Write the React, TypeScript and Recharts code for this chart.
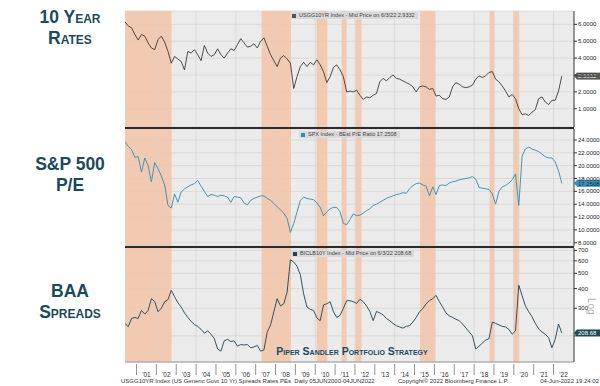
import { CartesianGrid, Line, LineChart, ReferenceArea, ReferenceLine, XAxis, YAxis } from "recharts";

// bi-monthly readings, Jun 2000 .. Jun 2022
const rateValues = [
  6.15, 5.9, 5.8, 5.4, 5.07, 5.4, 5.3, 4.9, 4.6, 4.5,
  5.1, 5.3, 4.95, 4.4, 3.7, 4.1, 3.95, 3.8, 3.3, 4.4,
  4.3, 4.5, 4.2, 3.85, 4.75, 4.3, 4.1, 4.2, 4.55, 4.2,
  4.0, 4.3, 4.55, 4.45, 4.8, 5.15, 4.9, 4.65, 4.7, 4.85,
  4.6, 5.0, 5.2, 4.7, 4.2, 3.85, 3.5, 4.0, 4.15, 3.95,
  3.7, 2.2, 2.9, 3.5, 3.75, 3.5, 3.75, 3.6, 3.9, 3.6,
  3.2, 2.55, 2.9, 3.45, 3.6, 3.3, 2.9, 2.0, 2.05, 2.0,
  2.1, 1.8, 1.55, 1.7, 1.65, 1.8, 1.9, 2.6, 2.8, 2.65,
  2.85, 3.0, 2.8, 2.75, 2.65, 2.55, 2.45, 2.3, 2.0, 2.3,
  2.35, 2.3, 2.15, 2.2, 1.75, 1.8, 1.6, 1.55, 1.7, 2.3,
  2.55, 2.45, 2.3, 2.25, 2.3, 2.4, 2.75, 2.95, 2.85, 2.95,
  3.15, 3.2, 2.75, 2.6, 2.35, 2.05, 1.7, 1.85, 1.6, 1.0,
  0.65, 0.7, 0.6, 0.8, 0.95, 1.6, 1.7, 1.4, 1.25, 1.5,
  1.5, 2.05, 2.9332,
];

const peValues = [
  23.7, 23.0, 22.5, 21.3, 21.4, 19.0, 21.2, 20.0, 17.5, 20.5,
  19.5, 18.4, 17.0, 13.8, 13.4, 15.6, 14.3, 15.9, 16.4, 16.7,
  17.0, 17.2, 17.7, 16.8, 16.0, 15.2, 15.5, 15.4, 15.2, 15.4,
  15.3, 15.1, 14.3, 15.2, 15.1, 15.0, 14.2, 13.9, 14.6, 14.9,
  15.1, 15.3, 15.3, 14.9, 14.6, 14.1, 13.6, 13.1, 12.6, 11.8,
  9.6, 11.0, 12.8, 14.6, 15.1, 14.9, 14.8, 14.7, 14.2, 13.5,
  12.2, 12.8, 13.3, 13.5, 13.5, 12.8, 11.0, 10.8, 11.6, 12.5,
  12.2, 12.3, 12.6, 13.0, 13.3, 13.8, 14.0, 14.3, 14.6, 14.9,
  15.1, 15.3, 15.5, 15.6, 15.8, 15.7, 16.4, 16.9, 17.2, 17.3,
  17.0, 16.8, 15.3, 16.7, 15.5, 16.9, 17.0, 16.9, 17.3, 17.5,
  17.6, 17.8, 17.9, 18.0, 18.1, 18.3, 17.9, 16.6, 16.5, 16.4,
  16.3, 15.6, 14.0, 16.0, 16.7, 16.9, 17.3, 17.8, 18.7, 13.8,
  21.5, 22.6, 22.9, 22.6, 22.4, 22.2, 21.8, 21.4, 21.2, 21.2,
  20.6, 19.2, 17.2508,
];

const baaValues = [
  240, 229, 258, 262, 258, 290, 275, 290, 345, 330,
  285, 300, 330, 340, 390, 355, 325, 305, 280, 262,
  247, 236, 230, 220, 208, 215, 205, 192, 165, 160,
  186, 190, 184, 186, 172, 176, 175, 176, 168, 170,
  174, 160, 163, 212, 235, 285, 345, 310, 320, 380,
  610, 590, 555, 490, 370, 305, 295, 290, 260, 250,
  315, 320, 330, 285, 262, 270, 300, 335, 335, 330,
  322, 342, 330, 310, 286, 250, 286, 280, 272, 258,
  250, 240, 232, 228, 224, 230, 232, 245, 262, 285,
  298, 320, 335, 345, 362, 330, 305, 280, 268, 262,
  255, 250, 238, 225, 212, 200, 165, 172, 180, 188,
  192, 245, 240, 235, 230, 228, 220, 205, 215, 420,
  360, 310, 285, 265, 240, 222, 212, 205, 195, 168,
  190, 238, 208.68,
];

// decimal years, one reading every two months from June 2000
const firstDate = 2000 + 5 / 12;
const dates = rateValues.map((_, i) => firstDate + i / 6);

const shadedPeriods = [
  [2000.42, 2002.77],
  [2007.3, 2008.78],
  [2010.07, 2010.61],
  [2011.33, 2011.58],
  [2012.03, 2012.33],
  [2015.28, 2016.06],
  [2018.78, 2019.03],
  [2019.97, 2020.27],
];

const yearTicks = [
  2001, 2002, 2003, 2004, 2005, 2006, 2007, 2008, 2009, 2010, 2011,
  2012, 2013, 2014, 2015, 2016, 2017, 2018, 2019, 2020, 2021, 2022,
];
const gridYears = [2002, 2004, 2006, 2008, 2010, 2012, 2014, 2016, 2018, 2020, 2022];

const rateTicks = [1, 2, 3, 4, 5, 6];
const peTicks = [8, 10, 12, 14, 16, 18, 20, 22, 24];
const baaTicks = [200, 300, 400, 500, 600, 700];

const rows = dates.map((t, i) => ({ t, rate: rateValues[i], pe: peValues[i], baa: baaValues[i] }));

const FONT = '"Liberation Sans", Arial, sans-serif';
const TITLE = "#1b4a5e";

function YearTick({ x, y, payload }: any) {
  const yy = String(payload.value).slice(2);
  return (
    <g>
      <line x1={x} y1={y + 2} x2={x} y2={y + 13} stroke="#777" strokeWidth={0.8} />
      <text x={x + 10} y={y + 15} fontSize={6.5} fill="#333" textAnchor="middle" fontFamily={FONT}>
        {"'" + yy}
      </text>
    </g>
  );
}

function ValueTag({ viewBox, text, bg, fg }: any) {
  const x = viewBox.x + viewBox.width;
  const y = viewBox.y;
  return (
    <g>
      <polygon points={`${x},${y} ${x + 3},${y - 3.5} ${x + 3},${y + 3.5}`} fill={bg} />
      <rect x={x + 3} y={y - 3.5} width={24} height={7} fill={bg} />
      <text x={x + 4} y={y + 2.2} fontSize={6} fill={fg} fontFamily={FONT}>
        {text}
      </text>
    </g>
  );
}

type PanelProps = {
  top: number;
  height: number;
  margin: { top: number; right: number; bottom: number; left: number };
  dataKey: string;
  color: string;
  domain: [number, number];
  ticks: number[];
  log?: boolean;
  digits: number;
  hiddenTick?: number;
  last: number;
  lastText: string;
  tagBg: string;
  tagFg: string;
  showX?: boolean;
};

function Panel(p: PanelProps) {
  return (
    <div style={{ position: "absolute", left: 0, top: p.top }}>
      <LineChart width={600} height={p.height} data={rows} margin={p.margin}>
        <CartesianGrid vertical={false} stroke="#d4d4d4" strokeWidth={0.7} fill="#ebebeb" />
        <XAxis
          type="number"
          dataKey="t"
          domain={[2000.42, 2023.03]}
          allowDataOverflow
          hide={!p.showX}
          ticks={yearTicks}
          interval={0}
          tickLine={false}
          tickSize={0}
          tickMargin={0}
          height={24}
          axisLine={{ stroke: "#9a9a9a" }}
          tick={<YearTick />}
        />
        <YAxis
          orientation="right"
          type="number"
          width={26}
          scale={p.log ? "log" : "linear"}
          domain={p.domain}
          allowDataOverflow
          ticks={p.ticks}
          interval={0}
          tickSize={3}
          tickMargin={1}
          axisLine={{ stroke: "#333" }}
          tickLine={{ stroke: "#333" }}
          tick={{ fontSize: 6, fill: "#222", fontFamily: FONT }}
          tickFormatter={(v: number) => (v === p.hiddenTick ? "" : v.toFixed(p.digits))}
        />
        {shadedPeriods.map(([a, b]) => (
          <ReferenceArea key={a} x1={a} x2={b} fill="#f2c5aa" fillOpacity={0.88} stroke="none" />
        ))}
        {gridYears.map((yr) => (
          <ReferenceLine key={yr} x={yr} stroke="#d4d4d4" strokeWidth={0.7} />
        ))}
        <Line
          type="linear"
          dataKey={p.dataKey}
          stroke={p.color}
          strokeWidth={0.9}
          dot={false}
          isAnimationActive={false}
        />
        <ReferenceLine
          y={p.last}
          stroke="none"
          label={(lp: any) => <ValueTag viewBox={lp.viewBox} text={p.lastText} bg={p.tagBg} fg={p.tagFg} />}
        />
      </LineChart>
    </div>
  );
}

function LegendBox({ left, top, marker, text }: { left: number; top: number; marker: string; text: string }) {
  return (
    <div
      style={{
        position: "absolute",
        left,
        top,
        height: 7,
        padding: "0 3px 0 2px",
        background: "#dadada",
        fontSize: 5.5,
        lineHeight: "7px",
        color: "#444",
        whiteSpace: "nowrap",
        display: "flex",
        alignItems: "center",
      }}
    >
      <span style={{ display: "inline-block", width: 4, height: 4, background: marker, marginRight: 3 }} />
      {text}
    </div>
  );
}

function Title({ top, lines }: { top: number; lines: string[] }) {
  return (
    <div
      style={{
        position: "absolute",
        left: 5,
        top,
        width: 130,
        textAlign: "center",
        fontFamily: FONT,
        fontWeight: "bold",
        fontSize: 17.5,
        lineHeight: "20.5px",
        fontVariant: "small-caps",
        color: TITLE,
      }}
    >
      {lines.map((l) => (
        <div key={l}>{l}</div>
      ))}
    </div>
  );
}

export default function App() {
  return (
    <div
      style={{
        position: "absolute",
        left: 0,
        top: 0,
        width: 600,
        height: 386,
        background: "#fff",
        overflow: "hidden",
        fontFamily: FONT,
      }}
    >
      <Panel
        top={4}
        height={125}
        margin={{ top: 7, right: 0, bottom: 2, left: 125 }}
        dataKey="rate"
        color="#3a3a3a"
        domain={[-0.08, 6.79]}
        ticks={rateTicks}
        digits={4}
        last={2.9332}
        lastText="2.9332"
        tagBg="#5a5a5a"
        tagFg="#fff"
      />
      <Panel
        top={122}
        height={128}
        margin={{ top: 7, right: 0, bottom: 4, left: 125 }}
        dataKey="pe"
        color="#2f8db0"
        domain={[7.49, 25.71]}
        ticks={peTicks}
        digits={4}
        last={17.2508}
        lastText="17.2508"
        tagBg="#3b93bb"
        tagFg="#0f2f45"
      />
      <Panel
        top={240}
        height={146}
        margin={{ top: 8, right: 0, bottom: 0, left: 125 }}
        dataKey="baa"
        color="#1c4452"
        domain={[136.4, 724.6]}
        ticks={baaTicks}
        log
        digits={0}
        hiddenTick={200}
        last={208.68}
        lastText="208.68"
        tagBg="#1e4757"
        tagFg="#fff"
        showX
      />

      <div style={{ position: "absolute", left: 125, top: 126.5, width: 449, height: 2.5, background: "#2b2b2b" }} />
      <div style={{ position: "absolute", left: 125, top: 245.5, width: 449, height: 2.5, background: "#2b2b2b" }} />

      <LegendBox left={290} top={12} marker="#555" text="USGG10YR Index - Mid Price on 6/3/22  2.9332" />
      <LegendBox left={299} top={131} marker="#2f8db0" text="SPX Index - BEst P/E Ratio  17.2508" />
      <LegendBox left={291} top={250} marker="#1c4452" text="BICLB10Y Index - Mid Price on 6/3/22  208.68" />

      <Title top={7} lines={["10 Year", "Rates"]} />
      <Title top={154} lines={["S&P 500", "P/E"]} />
      <Title top={281} lines={["BAA", "Spreads"]} />

      <div
        style={{
          position: "absolute",
          left: 200,
          top: 346,
          width: 304,
          textAlign: "center",
          fontWeight: "bold",
          fontSize: 10.5,
          lineHeight: "10px",
          fontVariant: "small-caps",
          color: TITLE,
        }}
      >
        Piper Sandler Portfolio Strategy
      </div>

      <div
        style={{
          position: "absolute",
          left: 586,
          top: 298,
          fontSize: 10,
          color: "#b0b0b0",
          writingMode: "vertical-rl",
          lineHeight: "10px",
        }}
      >
        Log
      </div>

      <div style={{ position: "absolute", left: 121, top: 378, fontSize: 6, color: "#333", whiteSpace: "nowrap" }}>
        USGG10YR Index (US Generic Govt 10 Yr) Spreads Rates PEs&nbsp;&nbsp;Daily 05JUN2000-04JUN2022
      </div>
      <div style={{ position: "absolute", left: 398, top: 378, fontSize: 6, color: "#333", whiteSpace: "nowrap" }}>
        Copyright© 2022 Bloomberg Finance L.P.
      </div>
      <div
        style={{
          position: "absolute",
          right: 1,
          top: 378,
          fontSize: 6,
          color: "#333",
          whiteSpace: "nowrap",
        }}
      >
        04-Jun-2022 19:24:02
      </div>
    </div>
  );
}
